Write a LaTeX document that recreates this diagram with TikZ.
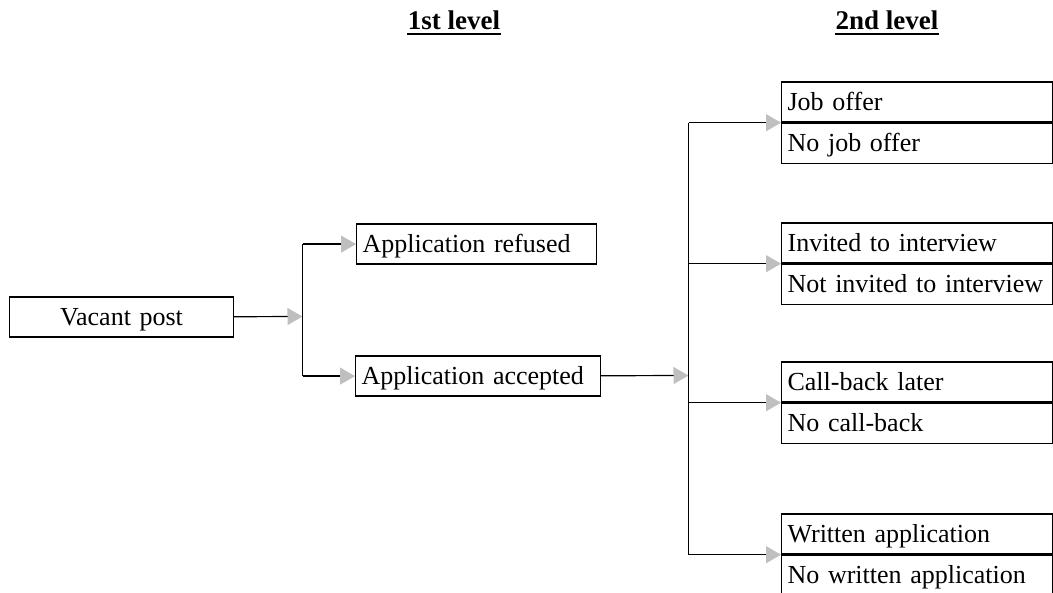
\documentclass[tikz,border=0pt]{standalone}
\usepackage{fontspec}
\setmainfont{Liberation Serif}
\usepackage{tikz}
\usetikzlibrary{arrows.meta,positioning}
\tikzset{box/.style={draw, line width=1.2pt, inner xsep=6pt, inner ysep=0pt,
      minimum height=40pt, text height=19pt, text depth=3pt, text width=#1, align=left}}
\tikzset{flow/.style={line width=1.2pt, -{Triangle[length=15pt,width=17pt,color=black!25]}}}
\tikzset{level/.style={inner sep=0pt, anchor=base, font=\fontsize{27pt}{30pt}\selectfont\bfseries}}

\begin{document}
\begin{tikzpicture}[x=1pt, y=-1pt, line width=1.2pt, font=\fontsize{26pt}{30pt}\selectfont]
    \useasboundingbox (0,0) rectangle (1053,593);
    \node[level] (first) at (454,30) {1st level};
    \node[level] (second) at (887,30) {2nd level};
    \draw[line width=2.5pt] ([yshift=-4pt]first.base west) -- ([yshift=-4pt]first.base east);
    \draw[line width=2.5pt] ([yshift=-4pt]second.base west) -- ([yshift=-4pt]second.base east);

    \node[box=212pt, align=center, anchor=north west] (vacant) at (9,296.5) {Vacant post};
    \node[box=228pt, anchor=north west] (refused) at (356,223.5) {Application refused};
    \node[box=233pt, anchor=north west] (accepted) at (355,355.5) {Application accepted};

    \node[box=259pt, anchor=north west] (joboffer) at (781,81.5) {Job offer};
    \node[box=259pt, below=0pt of joboffer] (nojob) {No job offer};
    \node[box=259pt, anchor=north west] (invited) at (781,222.5) {Invited to interview};
    \node[box=259pt, below=0pt of invited] (notinvited) {Not invited to interview};
    \node[box=259pt, anchor=north west] (callback) at (781,361.5) {Call-back later};
    \node[box=259pt, below=0pt of callback] (nocallback) {No call-back};
    \node[box=259pt, anchor=north west] (written) at (781,513.5) {Written application};
    \node[box=259pt, below=0pt of written] (nowritten) {No written application};

    \coordinate (fork1) at (302.5,316.5);
    \coordinate (fork2) at (688.5,375.5);

    \draw[flow] (vacant) -- (fork1);
    \draw (fork1 |- refused.west) -- (fork1 |- accepted.west);
    \draw[flow] (fork1 |- refused.west) -- (refused.west);
    \draw[flow] (fork1 |- accepted.west) -- (accepted.west);

    \draw[flow] (accepted) -- (fork2);
    \draw (fork2 |- joboffer.south west) -- (fork2 |- written.south west);
    \draw[flow] (fork2 |- joboffer.south west) -- (joboffer.south west);
    \draw[flow] (fork2 |- invited.south west) -- (invited.south west);
    \draw[flow] (fork2 |- callback.south west) -- (callback.south west);
    \draw[flow] (fork2 |- written.south west) -- (written.south west);
  \end{tikzpicture}
\end{document}
